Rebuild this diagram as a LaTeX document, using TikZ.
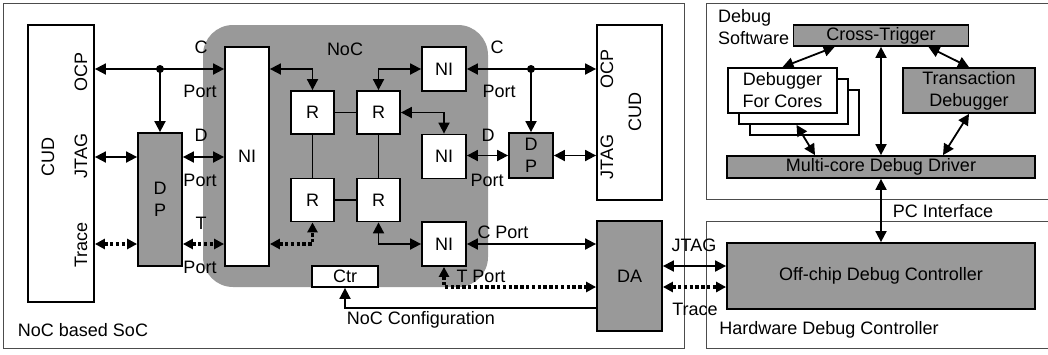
\documentclass[tikz,border=0pt]{standalone}
\usepackage{fontspec}
\setmainfont{Liberation Sans}
\usepackage{xcolor}
\usetikzlibrary{arrows.meta,positioning,calc}
\definecolor{boxgray}{RGB}{153,153,153}

\begin{document}
\begin{tikzpicture}[x=1pt, y=-1pt, every node/.style={font=\fontsize{18}{22}\selectfont},
    box/.style={draw, line width=1.8pt, fill=white, inner sep=0pt, align=center},
    graybox/.style={box, fill=boxgray},
    frame/.style={draw=black!70, line width=0.8pt},
    link/.style={line width=1.8pt, {Triangle[length=11pt,width=11pt]}-{Triangle[length=11pt,width=11pt]}},
    tolink/.style={line width=1.8pt, -{Triangle[length=11pt,width=11pt]}},
    tracelink/.style={line width=3.4pt, dash pattern=on 3.4pt off 2.4pt, {Triangle[length=10pt,width=10pt]}-{Triangle[length=10pt,width=10pt]}}]
    \useasboundingbox (0,0) rectangle (1048,354);
    \draw[frame] (3,3) rectangle (684,348);
    \draw[frame] (706,3) rectangle (1052,199);
    \draw[frame] (706,221) rectangle (1052,348);
    \node[fill=boxgray, rounded corners=30pt, minimum width=285pt, minimum height=262pt] (noc) at (345.5,156) {};
    \node (noclbl) at (345,49) {NoC};
    % left core under debug
    \node[box, minimum width=66pt, minimum height=277pt] (cudleft) at (61,163.5) {};
    \node[rotate=90] (cudlname) at (48,157) {CUD};
    \node[rotate=90] (ocplname) at (81,72) {OCP};
    \node[rotate=90] (jtaglname) at (81,156) {JTAG};
    \node[rotate=90] (tracelname) at (81,245) {Trace};
    \node[graybox, minimum width=44pt, minimum height=133pt] (dpleft) at (160,199.5) {D\\P};
    \node[box, minimum width=44pt, minimum height=219pt] (nibig) at (247,156.5) {NI};
    \foreach \n/\x/\y in {r1/312.5/112.5, r2/378.5/112.5, r3/312.5/200, r4/378.5/200}
      \node[box, minimum size=43pt] (\n) at (\x,\y) {R};
    \draw[line width=1.8pt] (r1) -- (r2) (r1) -- (r3) (r2) -- (r4) (r3) -- (r4);
    \foreach \n/\y in {nitop/69, nimid/156.5, nibot/244}
      \node[box, minimum size=44pt] (\n) at (444,\y) {NI};
    \node[box, minimum width=66pt, minimum height=21pt] (ctr) at (345,276.5) {Ctr};
    % right core under debug
    \node[graybox, minimum width=44pt, minimum height=45pt] (dpright) at (531,155.5) {D\\P};
    \node[box, minimum width=65pt, minimum height=175pt] (cudright) at (629.5,112.5) {};
    \node[rotate=90] (ocprname) at (607,69) {OCP};
    \node[rotate=90] (cudrname) at (635,112) {CUD};
    \node[rotate=90] (jtagrname) at (607,157) {JTAG};
    \node[graybox, minimum width=65pt, minimum height=110pt] (da) at (629.5,276) {DA};
    % port labels
    \foreach \n/\x/\y/\t in {lc1/201/47/C, lp1/200/91/Port, ld1/201/135/D, lp2/200/180/Port, lt1/201/223/T, lp3/200/267/Port,
        lc2/497/47/C, lp4/499/91/Port, ld2/488/135/D, lp5/487/180/Port, lcp/503/232/C Port, ltp/481/276/T Port}
      \node (\n) at (\x,\y) {\t};
    \node (cfglbl) at (421,320) {NoC Configuration};
    \node (soclbl) at (83,330) {NoC based SoC};
    \node (jtaglbl) at (694,245) {JTAG};
    \node (tracelbl) at (695,309) {Trace};
    % debug software and hardware
    \node[graybox, minimum width=175pt, minimum height=21pt] (cross) at (881,35.5) {Cross-Trigger};
    \node[box, minimum width=109pt, minimum height=45pt] (dbgback) at (804.5,112.5) {};
    \node[box, minimum width=109pt, minimum height=45pt] (dbgmid) at (793.5,101.5) {};
    \node[box, minimum width=109pt, minimum height=45pt] (dbgfront) at (782.5,90.5) {Debugger\\For Cores};
    \node[graybox, minimum width=132pt, minimum height=45pt] (trans) at (969,90.5) {Transaction\\Debugger};
    \node[graybox, minimum width=308pt, minimum height=22pt] (driver) at (881,167) {Multi-core Debug Driver};
    \node[graybox, minimum width=308pt, minimum height=66pt] (offchip) at (881,276) {Off-chip Debug Controller};
    \node[anchor=west, align=left, inner sep=0pt] (swlbl) at (718,27) {Debug\\Software};
    \node (pclbl) at (943,211) {PC Interface};
    \node (hwlbl) at (829,330) {Hardware Debug Controller};
    % connectors
    \coordinate (ocpL) at (160,69);
    \coordinate (jtagL) at (0,157);
    \coordinate (traceL) at (0,244);
    \draw[link] (cudleft.east |- ocpL) -- (nibig.west |- ocpL);
    \fill (ocpL) circle (4pt);
    \draw[tolink] (ocpL) -- (dpleft.north);
    \draw[link] (cudleft.east |- jtagL) -- (dpleft.west |- jtagL);
    \draw[link] (dpleft.east |- jtagL) -- (nibig.west |- jtagL);
    \draw[tracelink] (cudleft.east |- traceL) -- (dpleft.west |- traceL);
    \draw[tracelink] (dpleft.east |- traceL) -- (nibig.west |- traceL);
    \draw[link] (nibig.east |- ocpL) -| (r1.north);
    \draw[tracelink] (nibig.east |- traceL) -| (r3.south);
    \draw[link] (r2.north) |- (nitop.west);
    \draw[link] (r2.east) -| (nimid.north);
    \draw[link] (r4.south) |- (nibot.west);
    \coordinate (ocpR) at (531,69);
    \coordinate (tportR) at (0,287);
    \coordinate (cfg) at (0,308);
    \coordinate (jtagR) at (0,266);
    \draw[link] (nitop.east) -- (cudright.west |- nitop);
    \fill (ocpR) circle (4pt);
    \draw[tolink] (ocpR) -- (dpright.north);
    \draw[link] (nimid.east |- dpright) -- (dpright.west);
    \draw[link] (dpright.east) -- (cudright.west |- dpright);
    \draw[link] (nibot.east) -- (da.west |- nibot);
    \draw[tracelink] (nibot.south) |- (da.west |- tportR);
    \draw[tolink] (da.west |- cfg) -| (ctr.south);
    \draw[link] (da.east |- jtagR) -- (offchip.west |- jtagR);
    \draw[tracelink] (da.east |- tportR) -- (offchip.west |- tportR);
    \draw[link] ([xshift=42pt]cross.south west) -- (dbgfront.north);
    \draw[link] ([xshift=-41pt]cross.south east) -- (trans.north);
    \draw[link] (cross.south) -- (driver.north);
    \draw[link] ([xshift=3pt]dbgmid.south) -- ([xshift=-66pt]driver.north);
    \draw[link] (trans.south) -- ([xshift=62pt]driver.north);
    \draw[link] (driver.south) -- (offchip.north);
  \end{tikzpicture}
\end{document}
